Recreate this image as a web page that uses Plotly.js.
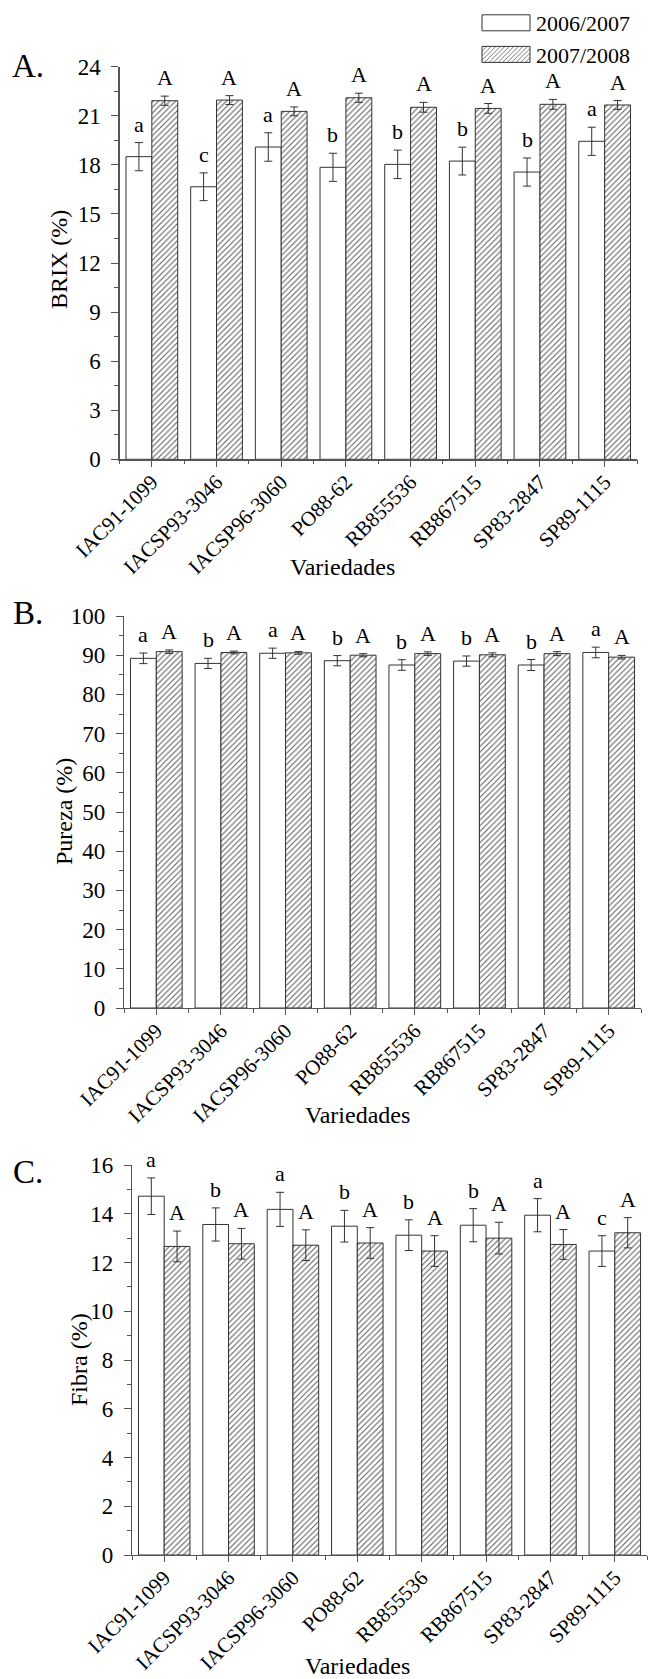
<!DOCTYPE html>
<html><head><meta charset="utf-8">
<script src="https://cdn.plot.ly/plotly-3.0.1.min.js"></script>
<style>html,body{margin:0;padding:0;background:#fff}</style>
</head><body>
<div id="chart" style="width:660px;height:1679px"></div>
<script>
// ---------- data ----------
const categories = ['IAC91-1099','IACSP93-3046','IACSP96-3060','PO88-62','RB855536','RB867515','SP83-2847','SP89-1115'];
const seasons = ['2006/2007','2007/2008'];

const brix0607 = [18.50,16.66,19.09,17.85,18.03,18.23,17.56,19.44];
const brix0607Err = [0.86,0.85,0.87,0.86,0.87,0.85,0.86,0.86];
const brix0708 = [21.92,21.96,21.27,22.10,21.52,21.45,21.70,21.66];
const brix0708Err = [0.28,0.27,0.27,0.28,0.30,0.30,0.30,0.27];
const brixLetters0607 = ['a','c','a','b','b','b','b','a'];
const brixLetters0708 = ['A','A','A','A','A','A','A','A'];

const pureza0607 = [89.2,87.9,90.5,88.6,87.5,88.5,87.5,90.7];
const pureza0607Err = [1.35,1.30,1.30,1.30,1.35,1.30,1.40,1.35];
const pureza0708 = [90.9,90.7,90.6,90.0,90.4,90.1,90.4,89.5];
const pureza0708Err = [0.45,0.35,0.35,0.40,0.45,0.50,0.50,0.45];
const purezaLetters0607 = ['a','b','a','b','b','b','b','a'];
const purezaLetters0708 = ['A','A','A','A','A','A','A','A'];

const fibra0607 = [14.72,13.56,14.18,13.49,13.12,13.53,13.94,12.47];
const fibra0607Err = [0.75,0.68,0.70,0.65,0.63,0.68,0.68,0.63];
const fibra0708 = [12.66,12.77,12.71,12.80,12.47,13.00,12.74,13.22];
const fibra0708Err = [0.63,0.63,0.63,0.63,0.63,0.65,0.61,0.62];
const fibraLetters0607 = ['a','b','a','b','b','b','a','c'];
const fibraLetters0708 = ['A','A','A','A','A','A','A','A'];

const yTitles = ['BRIX (%)','Pureza (%)','Fibra (%)'];
const panelLabels = ['A.','B.','C.'];
const xTitle = 'Variedades';

// ---------- layout helpers ----------
const W = 660, H = 1679;
const FONT = '"Liberation Serif", serif';
const AX = '#555', BARLINE = '#333';
const px = x => x / W;
const py = y => 1 - y / H;

const panels = [
  {v1:brix0607, e1:brix0607Err, v2:brix0708, e2:brix0708Err, l1:brixLetters0607, l2:brixLetters0708,
   ymax:24, dtick:3, minor:1.5, xdom:[119.5,637], ydom:[66.7,459.3],
   labelPos:[28,66], ytPos:[59,260], xtPos:[342,567]},
  {v1:pureza0607, e1:pureza0607Err, v2:pureza0708, e2:pureza0708Err, l1:purezaLetters0607, l2:purezaLetters0708,
   ymax:100, dtick:10, minor:5, xdom:[124,641], ydom:[616,1008],
   labelPos:[28,613], ytPos:[64,812], xtPos:[357,1115]},
  {v1:fibra0607, e1:fibra0607Err, v2:fibra0708, e2:fibra0708Err, l1:fibraLetters0607, l2:fibraLetters0708,
   ymax:16, dtick:2, minor:1, xdom:[132,647], ydom:[1165,1555],
   labelPos:[28,1172], ytPos:[79,1360], xtPos:[357,1666]}
];

const data = [];
const layout = {
  width: W, height: H,
  margin: {l:0, r:0, t:0, b:0},
  paper_bgcolor: '#fff', plot_bgcolor: 'rgba(0,0,0,0)',
  barmode: 'group', bargap: 0.2, bargroupgap: 0,
  font: {family: FONT, color: '#000', size: 22},
  showlegend: true,
  legend: {x: px(476), y: py(2), xanchor: 'left', yanchor: 'top',
           font: {family: FONT, size: 22, color: '#000'}, itemwidth: 50,
           bgcolor: 'rgba(0,0,0,0)', tracegroupgap: 0, traceorder: 'normal'},
  annotations: []
};

panels.forEach((p, k) => {
  const n = k === 0 ? '' : String(k + 1);
  const xa = 'x' + n, ya = 'y' + n;
  const ov = 'x' + (k + 4);
  const errStyle = {type:'data', visible:true, color:'#333', thickness:1, width:4};

  data.push({
    type:'bar', x:categories, y:p.v1, name:seasons[0], xaxis:xa, yaxis:ya,
    marker:{color:'#fff', line:{color:BARLINE, width:1}},
    error_y:Object.assign({array:p.e1}, errStyle),
    showlegend:k === 0, legendgroup:'s1', hoverinfo:'skip'
  });
  data.push({
    type:'bar', x:categories, y:p.v2, name:seasons[1], xaxis:xa, yaxis:ya,
    marker:{color:'#fff', line:{color:BARLINE, width:1},
            pattern:{shape:'/', fgcolor:'#5a5a5a', bgcolor:'#fff', size:4, solidity:0.25}},
    error_y:Object.assign({array:p.e2}, errStyle),
    showlegend:k === 0, legendgroup:'s2', hoverinfo:'skip'
  });
  // invisible trace to host the boundary-tick overlay axis
  data.push({type:'scatter', x:[], y:[], xaxis:ov, yaxis:ya, showlegend:false, hoverinfo:'skip'});

  const xkey = 'xaxis' + n, ykey = 'yaxis' + n;
  layout[xkey] = {
    type:'category', domain:[px(p.xdom[0]), px(p.xdom[1])], anchor:ya,
    range:[-0.5, categories.length - 0.5], fixedrange:true,
    showline:true, linecolor:AX, linewidth:1.2, mirror:false,
    ticks:'outside', ticklen:6, tickcolor:AX, tickwidth:1,
    tickangle:-45, tickfont:{family:FONT, size:21, color:'#000'}, ticklabelstandoff:-5,
    showgrid:false, zeroline:false
  };
  layout['xaxis' + (k + 4)] = {
    overlaying:xa, anchor:ya, type:'linear',
    range:[-0.5, categories.length - 0.5],
    tickmode:'array', tickvals:categories.map((c, i) => i - 0.5).concat([categories.length - 0.5]),
    ticks:'outside', ticklen:4, tickcolor:AX, tickwidth:1,
    showticklabels:false, showline:false, showgrid:false, zeroline:false, fixedrange:true
  };
  layout[ykey] = {
    domain:[py(p.ydom[1]), py(p.ydom[0])], anchor:xa,
    range:[0, p.ymax], dtick:p.dtick, tick0:0, fixedrange:true,
    showline:true, linecolor:AX, linewidth:1.2,
    ticks:'outside', ticklen:7, tickcolor:AX, tickwidth:1,
    minor:{ticks:'outside', ticklen:4, dtick:p.minor, tick0:0, tickcolor:AX, showgrid:false},
    tickfont:{family:FONT, size:23, color:'#000'}, ticklabelstandoff:6,
    showgrid:false, zeroline:false
  };

  // significance letters
  categories.forEach((c, i) => {
    layout.annotations.push({xref:xa, yref:ya, x:i - 0.2, y:p.v1[i] + p.e1[i], text:p.l1[i],
      showarrow:false, yanchor:'bottom', yshift:4, font:{family:FONT, size:22, color:'#000'}});
    layout.annotations.push({xref:xa, yref:ya, x:i + 0.2, y:p.v2[i] + p.e2[i], text:p.l2[i],
      showarrow:false, yanchor:'bottom', yshift:4, font:{family:FONT, size:22, color:'#000'}});
  });

  // panel label, axis titles
  layout.annotations.push({xref:'paper', yref:'paper', x:px(p.labelPos[0]), y:py(p.labelPos[1]),
    text:panelLabels[k], showarrow:false, xanchor:'center', yanchor:'middle',
    font:{family:FONT, size:33, color:'#000'}});
  layout.annotations.push({xref:'paper', yref:'paper', x:px(p.ytPos[0]), y:py(p.ytPos[1]),
    text:yTitles[k], textangle:-90, showarrow:false, xanchor:'center', yanchor:'middle',
    font:{family:FONT, size:24, color:'#000'}});
  layout.annotations.push({xref:'paper', yref:'paper', x:px(p.xtPos[0]), y:py(p.xtPos[1]),
    text:xTitle, showarrow:false, xanchor:'center', yanchor:'middle',
    font:{family:FONT, size:24, color:'#000'}});
});

Plotly.newPlot('chart', data, layout, {staticPlot:true, displayModeBar:false}).then(gd => {
  // enlarge legend swatches to wide rectangles like the reference
  gd.querySelectorAll('.legend .legendpoints path').forEach(pth => {
    pth.setAttribute('d', 'M-24,8H24V-8H-24Z');
  });
});
</script>
</body></html>
